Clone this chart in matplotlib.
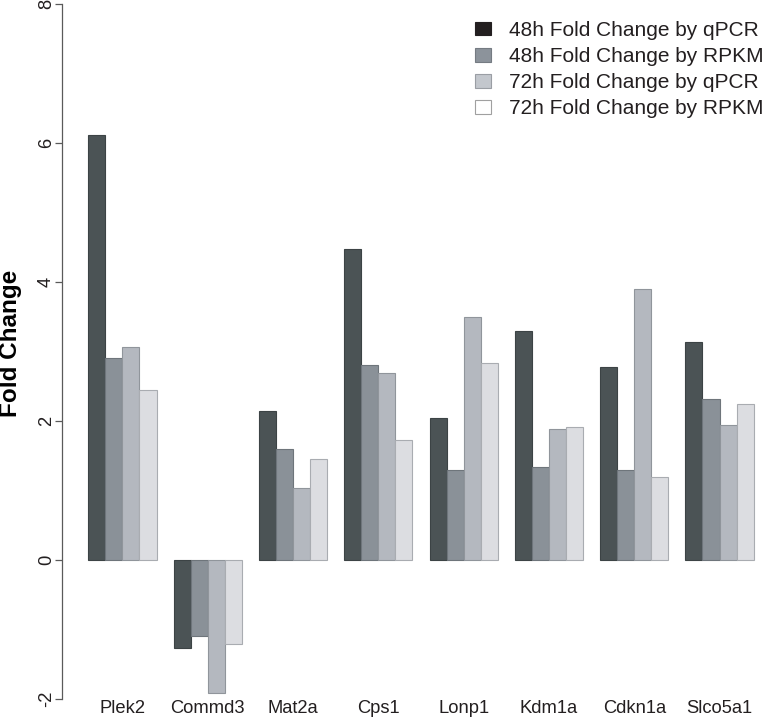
import numpy as np
import matplotlib.pyplot as plt
from matplotlib.patches import Patch

plt.rcParams['font.family'] = ['Liberation Sans', 'DejaVu Sans']

genes = ['Plek2', 'Commd3', 'Mat2a', 'Cps1', 'Lonp1', 'Kdm1a', 'Cdkn1a', 'Slco5a1']
fc_48h_qpcr = [6.11, -1.27, 2.15, 4.47, 2.05, 3.30, 2.78, 3.14]
fc_48h_rpkm = [2.90, -1.10, 1.60, 2.80, 1.29, 1.34, 1.29, 2.32]
fc_72h_qpcr = [3.07, -1.91, 1.04, 2.69, 3.50, 1.88, 3.90, 1.94]
fc_72h_rpkm = [2.44, -1.21, 1.46, 1.73, 2.84, 1.91, 1.19, 2.24]
series_labels = ['48h Fold Change by qPCR', '48h Fold Change by RPKM',
                 '72h Fold Change by qPCR', '72h Fold Change by RPKM']
y_ticks = [-2, 0, 2, 4, 6, 8]

series = [fc_48h_qpcr, fc_48h_rpkm, fc_72h_qpcr, fc_72h_rpkm]
bar_colors = ['#4b5355', '#8a9198', '#b4b8bf', '#dcdde1']
edge_colors = ['#3c4345', '#6e757b', '#90959b', '#a9acb1']
legend_colors = ['#231f20', '#8c939b', '#c3c7cd', '#ffffff']
legend_edges = ['#231f20', '#757b82', '#9a9ea4', '#a0a0a0']
text_color = '#231f20'

W, H = 768, 717
fig = plt.figure(figsize=(W / 100, H / 100), dpi=100)
# axes placed in pixel terms: left spine at x=62, y=8 at 4 px, y=-2 at 699 px
ax = fig.add_axes([62 / W, (H - 699) / H, (W - 62) / W, (699 - 4) / H])

n = len(genes)
group_start = 1 + 5 * np.arange(n)
for j, vals in enumerate(series):
    ax.bar(group_start + j, vals, width=1.0, align='edge',
           color=bar_colors[j], edgecolor=edge_colors[j], linewidth=0.8)

ax.set_xlim(-0.54, 40.84)
ax.set_ylim(-2, 8)

for s in ['top', 'right', 'bottom']:
    ax.spines[s].set_visible(False)
ax.spines['left'].set_color('#5a5a5a')
ax.spines['left'].set_linewidth(0.9)
ax.spines['left'].set_bounds(-2, 8)
ax.spines['left'].set_clip_on(False)

ax.set_yticks(y_ticks)
ax.set_yticklabels([str(t) for t in y_ticks], rotation=90, va='center',
                   fontsize=13.2, color=text_color)
ax.tick_params(axis='y', length=5, width=0.9, color='#5a5a5a', pad=0)

ax.set_xticks(group_start + 2)
ax.set_xticklabels(genes, fontsize=13.2, color=text_color)
ax.tick_params(axis='x', length=0, pad=0.5)

ax.set_ylabel('Fold Change', fontsize=17.5, fontweight='bold', color='black')
ax.yaxis.set_label_coords(-0.057, 0.512)

handles = [Patch(facecolor=legend_colors[j], edgecolor=legend_edges[j], linewidth=0.8)
           for j in range(4)]
ax.legend(handles, series_labels, loc='upper left',
          bbox_to_anchor=(475 / W, 1 - 21 / H), bbox_transform=fig.transFigure,
          frameon=False, fontsize=15, labelcolor=text_color,
          handlelength=0.76, handleheight=0.62, handletextpad=0.85,
          labelspacing=0.34, borderpad=0, borderaxespad=0)

fig.savefig('out.png', dpi=100)
